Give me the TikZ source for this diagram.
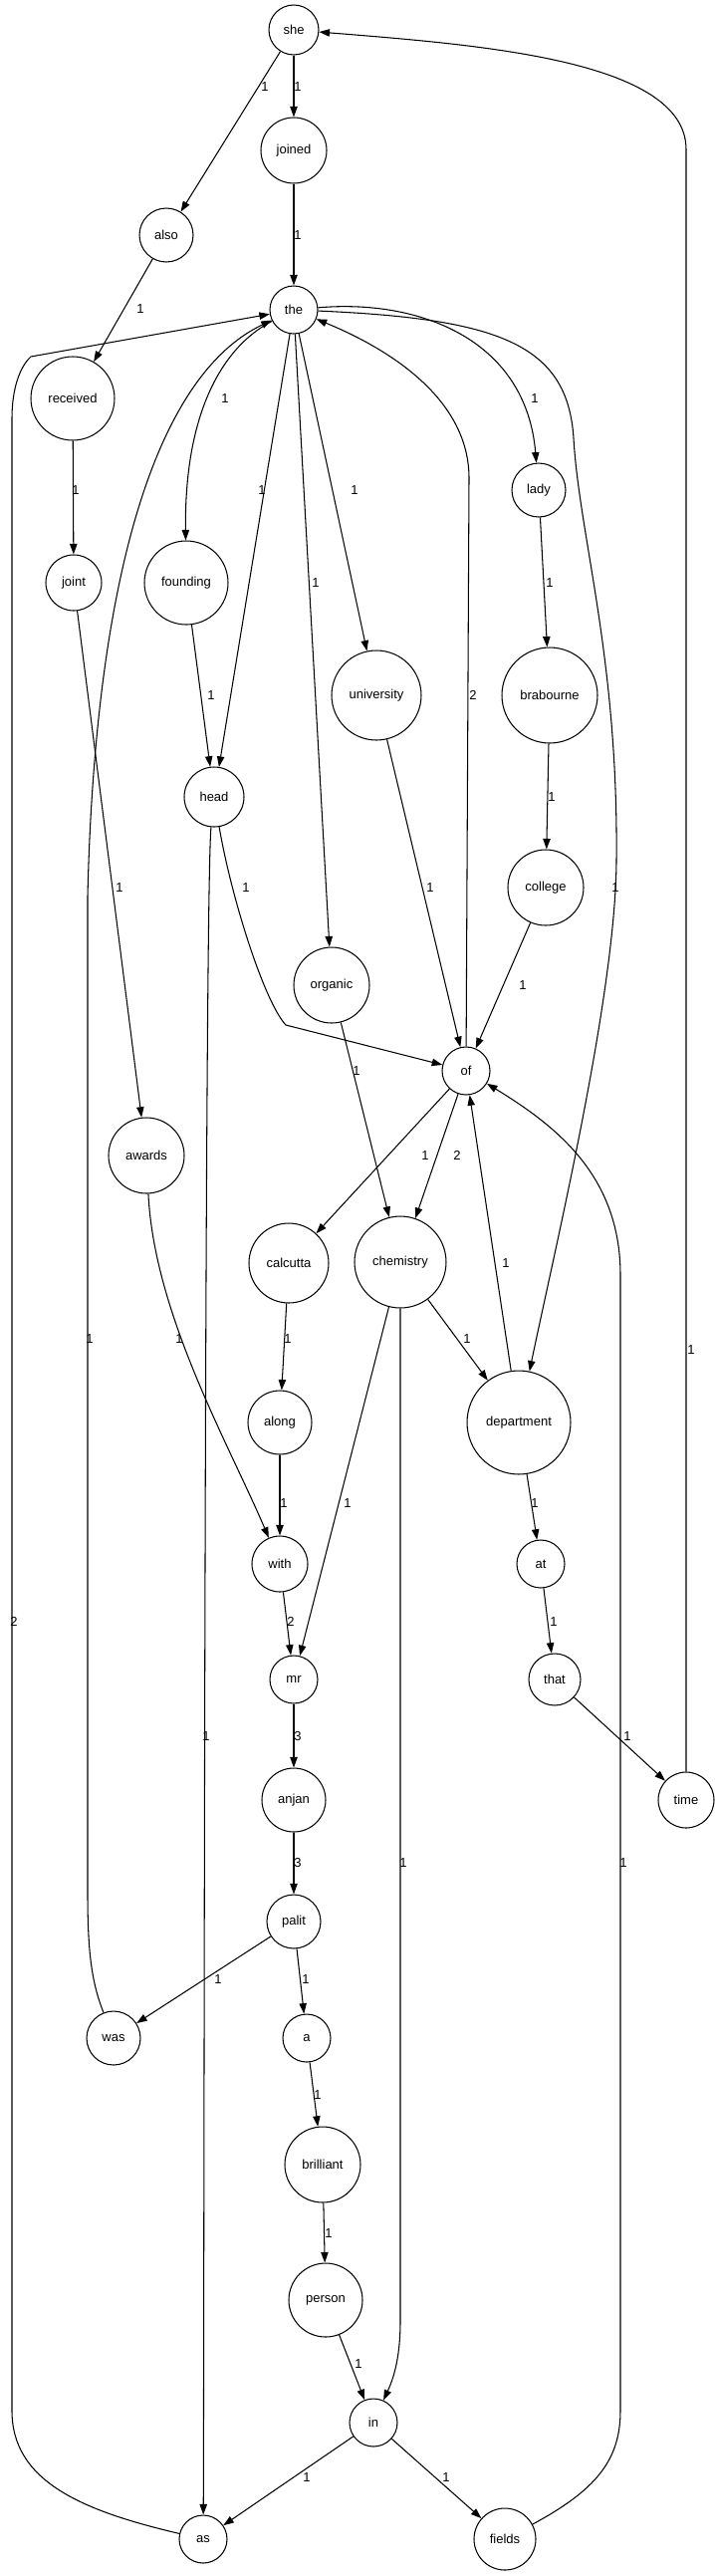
\documentclass[tikz,border=0pt]{standalone}
\usepackage{fontspec}
\setmainfont{Liberation Sans}
\usetikzlibrary{arrows.meta}

\begin{document}
\begin{tikzpicture}[
    x=0.02cm, y=-0.02cm,
    word/.style={circle, draw, line width=0.6pt, inner sep=0pt, font=\fontsize{7.4}{8}\selectfont},
    arrow/.style={-{Triangle[length=6pt, width=4.2pt]}, line width=0.6pt},
    weight/.style={font=\fontsize{7.4}{8}\selectfont, inner sep=1pt}
]
\useasboundingbox (0,0) rectangle (717,2586);

% Words
\node[word, minimum size=1.00cm] (she) at (295,30) {she};
\node[word, minimum size=1.32cm] (joined) at (295,151) {joined};
\node[word, minimum size=1.08cm] (also) at (167,236) {also};
\node[word, minimum size=0.96cm] (the) at (295,311) {the};
\node[word, minimum size=1.68cm] (received) at (73,400) {received};
\node[word, minimum size=1.08cm] (lady) at (541,492) {lady};
\node[word, minimum size=1.12cm] (joint) at (74,585) {joint};
\node[word, minimum size=1.68cm] (founding) at (187,585) {founding};
\node[word, minimum size=1.80cm] (university) at (378,698) {university};
\node[word, minimum size=1.92cm] (brabourne) at (552,698) {brabourne};
\node[word, minimum size=1.20cm] (head) at (215,800) {head};
\node[word, minimum size=1.52cm] (college) at (548,891) {college};
\node[word, minimum size=1.52cm] (organic) at (333,989) {organic};
\node[word, minimum size=0.96cm] (of) at (468,1075) {of};
\node[word, minimum size=1.52cm] (awards) at (147,1160) {awards};
\node[word, minimum size=1.60cm] (calcutta) at (290,1268) {calcutta};
\node[word, minimum size=1.84cm] (chemistry) at (402,1267) {chemistry};
\node[word, minimum size=1.28cm] (along) at (281,1428) {along};
\node[word, minimum size=2.08cm] (department) at (521,1428) {department};
\node[word, minimum size=1.12cm] (with) at (281,1570) {with};
\node[word, minimum size=0.96cm] (at) at (543,1570) {at};
\node[word, minimum size=0.96cm] (mr) at (295,1686) {mr};
\node[word, minimum size=1.04cm] (that) at (557,1686) {that};
\node[word, minimum size=1.28cm] (anjan) at (295,1807) {anjan};
\node[word, minimum size=1.12cm] (time) at (689,1807) {time};
\node[word, minimum size=1.08cm] (palit) at (295,1929) {palit};
\node[word, minimum size=1.08cm] (was) at (114,2046) {was};
\node[word, minimum size=0.96cm] (a) at (308,2046) {a};
\node[word, minimum size=1.52cm] (brilliant) at (324,2173) {brilliant};
\node[word, minimum size=1.48cm] (person) at (327,2309) {person};
\node[word, minimum size=0.96cm] (in) at (375,2432) {in};
\node[word, minimum size=0.96cm] (as) at (204,2549) {as};
\node[word, minimum size=1.24cm] (fields) at (507,2549) {fields};

% Straight links
\draw[arrow] (she) -- (also) node[weight, at={(266,87)}] {1};
\draw[arrow] (she) -- (joined) node[weight, at={(299,87)}] {1};
\draw[arrow] (joined) -- (the) node[weight, at={(299,236)}] {1};
\draw[arrow] (also) -- (received) node[weight, at={(141,310)}] {1};
\draw[arrow] (received) -- (joint) node[weight, at={(76,492)}] {1};
\draw[arrow] (joint) -- (awards) node[weight, at={(120,891)}] {1};
\draw[arrow] (the) -- (head) node[weight, at={(263,492)}] {1};
\draw[arrow] (the) -- (organic) node[weight, at={(317,585)}] {1};
\draw[arrow] (the) -- (university) node[weight, at={(356,492)}] {1};
\draw[arrow] (founding) -- (head) node[weight, at={(212,698)}] {1};
\draw[arrow] (lady) -- (brabourne) node[weight, at={(552,585)}] {1};
\draw[arrow] (brabourne) -- (college) node[weight, at={(554,800)}] {1};
\draw[arrow] (college) -- (of) node[weight, at={(525,989)}] {1};
\draw[arrow] (university) -- (of) node[weight, at={(432,891)}] {1};
\draw[arrow] (of) -- (calcutta) node[weight, at={(427,1160)}] {1};
\draw[arrow] (of) -- (chemistry) node[weight, at={(459,1160)}] {2};
\draw[arrow] (organic) -- (chemistry) node[weight, at={(358,1075)}] {1};
\draw[arrow] (department) -- (of) node[weight, at={(508,1268)}] {1};
\draw[arrow] (chemistry) -- (department) node[weight, at={(469,1344)}] {1};
\draw[arrow] (chemistry) -- (mr) node[weight, at={(349,1509)}] {1};
\draw[arrow] (calcutta) -- (along) node[weight, at={(289,1344)}] {1};
\draw[arrow] (along) -- (with) node[weight, at={(285,1509)}] {1};
\draw[arrow] (with) -- (mr) node[weight, at={(292,1628)}] {2};
\draw[arrow] (department) -- (at) node[weight, at={(537,1509)}] {1};
\draw[arrow] (at) -- (that) node[weight, at={(556,1628)}] {1};
\draw[arrow] (that) -- (time) node[weight, at={(630,1743)}] {1};
\draw[arrow] (mr) -- (anjan) node[weight, at={(299,1743)}] {3};
\draw[arrow] (anjan) -- (palit) node[weight, at={(299,1870)}] {3};
\draw[arrow] (palit) -- (was) node[weight, at={(219,1987)}] {1};
\draw[arrow] (palit) -- (a) node[weight, at={(307,1987)}] {1};
\draw[arrow] (a) -- (brilliant) node[weight, at={(319,2103)}] {1};
\draw[arrow] (brilliant) -- (person) node[weight, at={(330,2242)}] {1};
\draw[arrow] (person) -- (in) node[weight, at={(360,2373)}] {1};
\draw[arrow] (in) -- (as) node[weight, at={(308,2487)}] {1};
\draw[arrow] (in) -- (fields) node[weight, at={(448,2487)}] {1};

% Curved links
\draw[arrow] (the) .. controls (220,350) and (185,420) .. (founding) node[weight, at={(226,400)}] {1};
\draw[arrow] (the) .. controls (420,300) and (528,340) .. (lady) node[weight, at={(537,400)}] {1};
\draw[arrow] (the) .. controls (500,320) and (570,345) .. (576,440)
    .. controls (582,540) and (621,660) .. (619,864)
    .. controls (618,1000) and (558,1250) .. (department) node[weight, at={(618,891)}] {1};
\draw[arrow] (head) .. controls (232,900) and (265,1005) .. (287,1029) -- (of) node[weight, at={(247,891)}] {1};
\draw[arrow] (head) .. controls (205,900) and (205,2400) .. (as) node[weight, at={(207,1743)}] {1};
\draw[arrow] (of) -- (471,480) .. controls (471,400) and (390,350) .. (the) node[weight, at={(475,698)}] {2};
\draw[arrow] (awards) .. controls (155,1320) and (230,1450) .. (with) node[weight, at={(180,1344)}] {1};
\draw[arrow] (chemistry) -- (402,2330) .. controls (402,2370) and (394,2390) .. (in) node[weight, at={(405,1870)}] {1};
\draw[arrow] (fields) .. controls (598,2500) and (623,2470) .. (623,2420) -- (623,1280)
    .. controls (623,1180) and (558,1130) .. (of) node[weight, at={(626,1870)}] {1};
\draw[arrow] (was) .. controls (92,1990) and (88,1960) .. (88,1900) -- (88,900)
    .. controls (95,600) and (150,380) .. (the) node[weight, at={(90,1344)}] {1};
\draw[arrow] (as) .. controls (80,2520) and (12,2490) .. (12,2420) -- (12,420)
    .. controls (12,390) and (20,368) .. (31,358) -- (the) node[weight, at={(14,1628)}] {2};
\draw[arrow] (time) -- (689,150) .. controls (689,60) and (480,45) .. (she) node[weight, at={(694,1355)}] {1};

\end{tikzpicture}
\end{document}
